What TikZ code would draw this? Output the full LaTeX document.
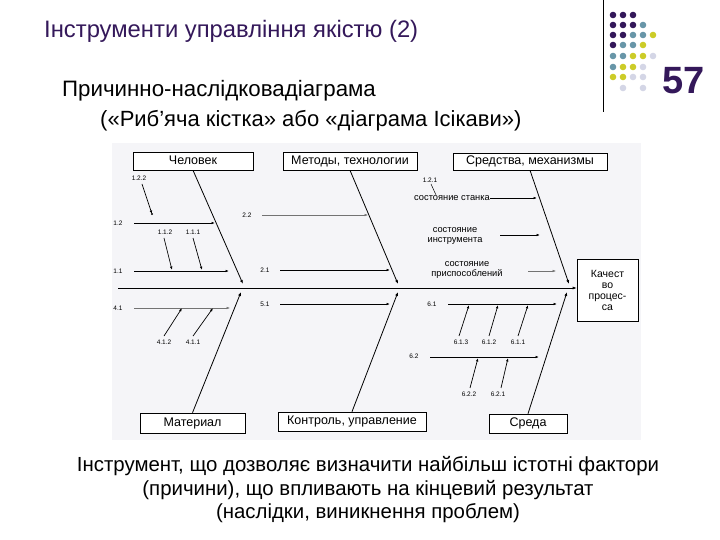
\documentclass[tikz,border=0pt]{standalone}
\usepackage{fontspec}
\setmainfont{Liberation Sans}
\usetikzlibrary{arrows.meta}
\definecolor{tpurple}{RGB}{52,24,90}
\definecolor{dteal}{RGB}{104,150,168}
\definecolor{dyellow}{RGB}{204,204,40}
\definecolor{dlav}{RGB}{212,214,230}
\definecolor{diagbg}{RGB}{245,245,248}
\tikzset{
  fbox/.style={draw, line width=0.6pt, fill=white, inner sep=0pt, text height=9pt, text depth=2.5pt, font=\fontsize{12.5}{13}\selectfont},
  bone/.style={line width=0.8pt, -{Latex[length=4pt,width=3pt]}},
  sub/.style={line width=0.7pt, -{Latex[length=3.5pt,width=2.6pt]}},
  subgray/.style={line width=0.5pt, draw=black!55, -{Latex[length=3.5pt,width=2.6pt]}},
  num/.style={font=\fontsize{6.5}{7}\selectfont, inner sep=0.5pt},
  note/.style={font=\fontsize{9.3}{9.6}\selectfont, align=center, inner sep=0.5pt},
  dotP/.style={fill=tpurple},
  dotT/.style={fill=dteal},
  dotY/.style={fill=dyellow},
  dotL/.style={fill=dlav},
}
\begin{document}
\begin{tikzpicture}[x=1pt,y=-1pt]
\useasboundingbox (0,0) rectangle (720,540);
\fill[white] (0,0) rectangle (720,540);

% header
\node[anchor=west, inner sep=0pt, text=tpurple, font=\fontsize{23.8}{26}\selectfont] (title) at (44,31) {Інструменти управління якістю (2)};
\node[anchor=west, inner sep=0pt, font=\fontsize{22.3}{24}\selectfont] (sub1) at (62,91) {Причинно-наслідковадіаграма};
\node[anchor=west, inner sep=0pt, font=\fontsize{22}{24}\selectfont] (sub2) at (100,121) {(«Риб’яча кістка» або «діаграма Ісікави»)};
\coordinate (vt) at (603,0);
\coordinate (vb) at (603,112);
\draw[line width=0.8pt] (vt) -- (vb);

% dot grid
\foreach \x/\y/\c in {613/15/P,623/15/P,633/15/P,
  613/25/P,623/25/P,633/25/P,643/25/T,
  613/35/P,623/35/P,633/35/T,643/35/T,653/35/Y,
  613/45/P,623/45/T,633/45/T,643/45/Y,
  613/56/T,623/56/T,633/56/Y,643/56/Y,653/56/L,
  613/67/T,623/67/Y,633/67/Y,643/67/L,
  613/77/Y,623/77/Y,633/77/L,643/77/L,
  623/88/L,643/88/L}
  \fill[dot\c] (\x,\y) circle (3.3);
\node[anchor=west, inner sep=0pt, text=tpurple, font=\bfseries\fontsize{38}{40}\selectfont] (pnum) at (662,81) {57};

% diagram background
\fill[diagbg] (112,143) rectangle (641,440);

% boxes
\node[fbox, minimum width=120pt, minimum height=18pt] (chel) at (193,161) {Человек};
\node[fbox, minimum width=134pt, minimum height=18pt] (met) at (350,161) {Методы, технологии};
\node[fbox, minimum width=154pt, minimum height=17pt] (sred) at (530,161.5) {Средства, механизмы};
\node[fbox, minimum width=105pt, minimum height=20pt] (mat) at (192.5,423) {Материал};
\node[fbox, minimum width=148pt, minimum height=19pt] (kontr) at (352,421.5) {Контроль, управление};
\node[fbox, minimum width=78pt, minimum height=19pt] (sreda) at (528,423.5) {Среда};
\node[draw, line width=0.6pt, fill=white, inner sep=0pt, minimum width=61pt, minimum height=62pt, align=center, font=\fontsize{10.5}{11}\selectfont] (kach) at (607.5,290) {Качест\\во\\процес-\\са};

% spine
\coordinate (sp0) at (118,288);
\draw[line width=0.6pt, -{Latex[length=4pt,width=3pt]}] (sp0) -- (kach.west |- sp0);

% main bones
\coordinate (eChel) at (243,284);
\coordinate (eMet) at (398,284);
\coordinate (eSred) at (569,284);
\coordinate (eMat) at (241,292);
\coordinate (eKontr) at (398,292);
\coordinate (eSreda) at (567,292);
\draw[bone] (chel.south) -- (eChel);
\draw[bone] (met.south) -- (eMet);
\draw[bone] (sred.south) -- (eSred);
\draw[bone] (mat.north) -- (eMat);
\draw[bone] (kontr.north) -- (eKontr);
\draw[bone] (sreda.north) -- (eSreda);

% --- Человек
\node[num] (n122) at (139,178) {1.2.2};
\coordinate (e122) at (152,214);
\draw[sub] (n122.south) ++(3,3) -- (e122);
\fill (e122) circle (1.2);
\node[num] (n12) at (118,223) {1.2};
\coordinate (s12) at (134,223);
\coordinate (e12) at (215,223);
\draw[sub] (s12) -- (e12);
\node[num] (n112) at (165,232) {1.1.2};
\node[num] (n111) at (193,232) {1.1.1};
\coordinate (e112) at (172,270);
\coordinate (e111) at (202,270);
\draw[sub] (n112.south) ++(-1,3) -- (e112);
\draw[sub] (n111.south) ++(0,3) -- (e111);
\node[num] (n11) at (118,271) {1.1};
\coordinate (s11) at (134,271);
\coordinate (e11) at (229,271);
\draw[sub] (s11) -- (e11);

% --- Материал
\node[num] (n41) at (118,308) {4.1};
\coordinate (s41) at (134,308);
\coordinate (e41) at (230,308);
\draw[subgray] (s41) -- (e41);
\node[num] (n412) at (164,342) {4.1.2};
\node[num] (n411) at (193,342) {4.1.1};
\coordinate (e412) at (182,308);
\coordinate (e411) at (213,308);
\draw[sub] (n412.north) ++(0,-3) -- (e412);
\draw[sub] (n411.north) ++(0,-3) -- (e411);

% --- Методы / Контроль
\node[num] (n22) at (247,215) {2.2};
\coordinate (s22) at (262,215);
\coordinate (e22) at (368,215);
\draw[subgray] (s22) -- (e22);
\node[num] (n21) at (265,270) {2.1};
\coordinate (s21) at (280,270);
\coordinate (e21) at (390,270);
\draw[sub] (s21) -- (e21);
\node[num] (n51) at (265,304) {5.1};
\coordinate (s51) at (280,304);
\coordinate (e51) at (390,304);
\draw[sub] (s51) -- (e51);

% --- Средства
\node[num] (n121) at (430,180) {1.2.1};
\coordinate (t121) at (436,195);
\draw[line width=0.5pt] (n121.south) ++(1,1) -- (t121);
\node[note] (nst) at (452,198) {состояние станка};
\coordinate (est) at (537,198);
\draw[sub] (nst.east) -- (est);
\node[note] (nin) at (455,236) {состояние\\инструмента};
\coordinate (sin) at (500,235);
\coordinate (ein) at (540,235);
\draw[sub] (sin) -- (ein);
\node[note] (npr) at (467,270) {состояние\\приспособлений};
\coordinate (spr) at (528,271);
\coordinate (epr) at (556,271);
\draw[subgray] (spr) -- (epr);

% --- Среда
\node[num] (n61) at (432,304) {6.1};
\coordinate (s61) at (448,304);
\coordinate (e61) at (557,304);
\draw[sub] (s61) -- (e61);
\node[num] (n613) at (461,342) {6.1.3};
\node[num] (n612) at (489,342) {6.1.2};
\node[num] (n611) at (518,342) {6.1.1};
\coordinate (e613) at (469,305);
\coordinate (e612) at (498,305);
\coordinate (e611) at (528,305);
\draw[sub] (n613.north) ++(-2,-3) -- (e613);
\draw[sub] (n612.north) ++(0,-3) -- (e612);
\draw[sub] (n611.north) ++(0,-3) -- (e611);
\node[num] (n62) at (414,356) {6.2};
\coordinate (s62) at (430,357);
\coordinate (e62) at (539,357);
\draw[sub] (s62) -- (e62);
\node[num] (n622) at (469,394) {6.2.2};
\node[num] (n621) at (498,394) {6.2.1};
\coordinate (e622) at (478,358);
\coordinate (e621) at (508,358);
\draw[sub] (n622.north) ++(1,-3) -- (e622);
\draw[sub] (n621.north) ++(3,-3) -- (e621);

% bottom text
\node[align=center, inner sep=0pt, font=\fontsize{20.4}{23.5}\selectfont] (desc) at (368,490)
 {Інструмент, що дозволяє визначити найбільш істотні фактори\\(причини), що впливають на кінцевий результат\\(наслідки, виникнення проблем)};
\end{tikzpicture}
\end{document}
